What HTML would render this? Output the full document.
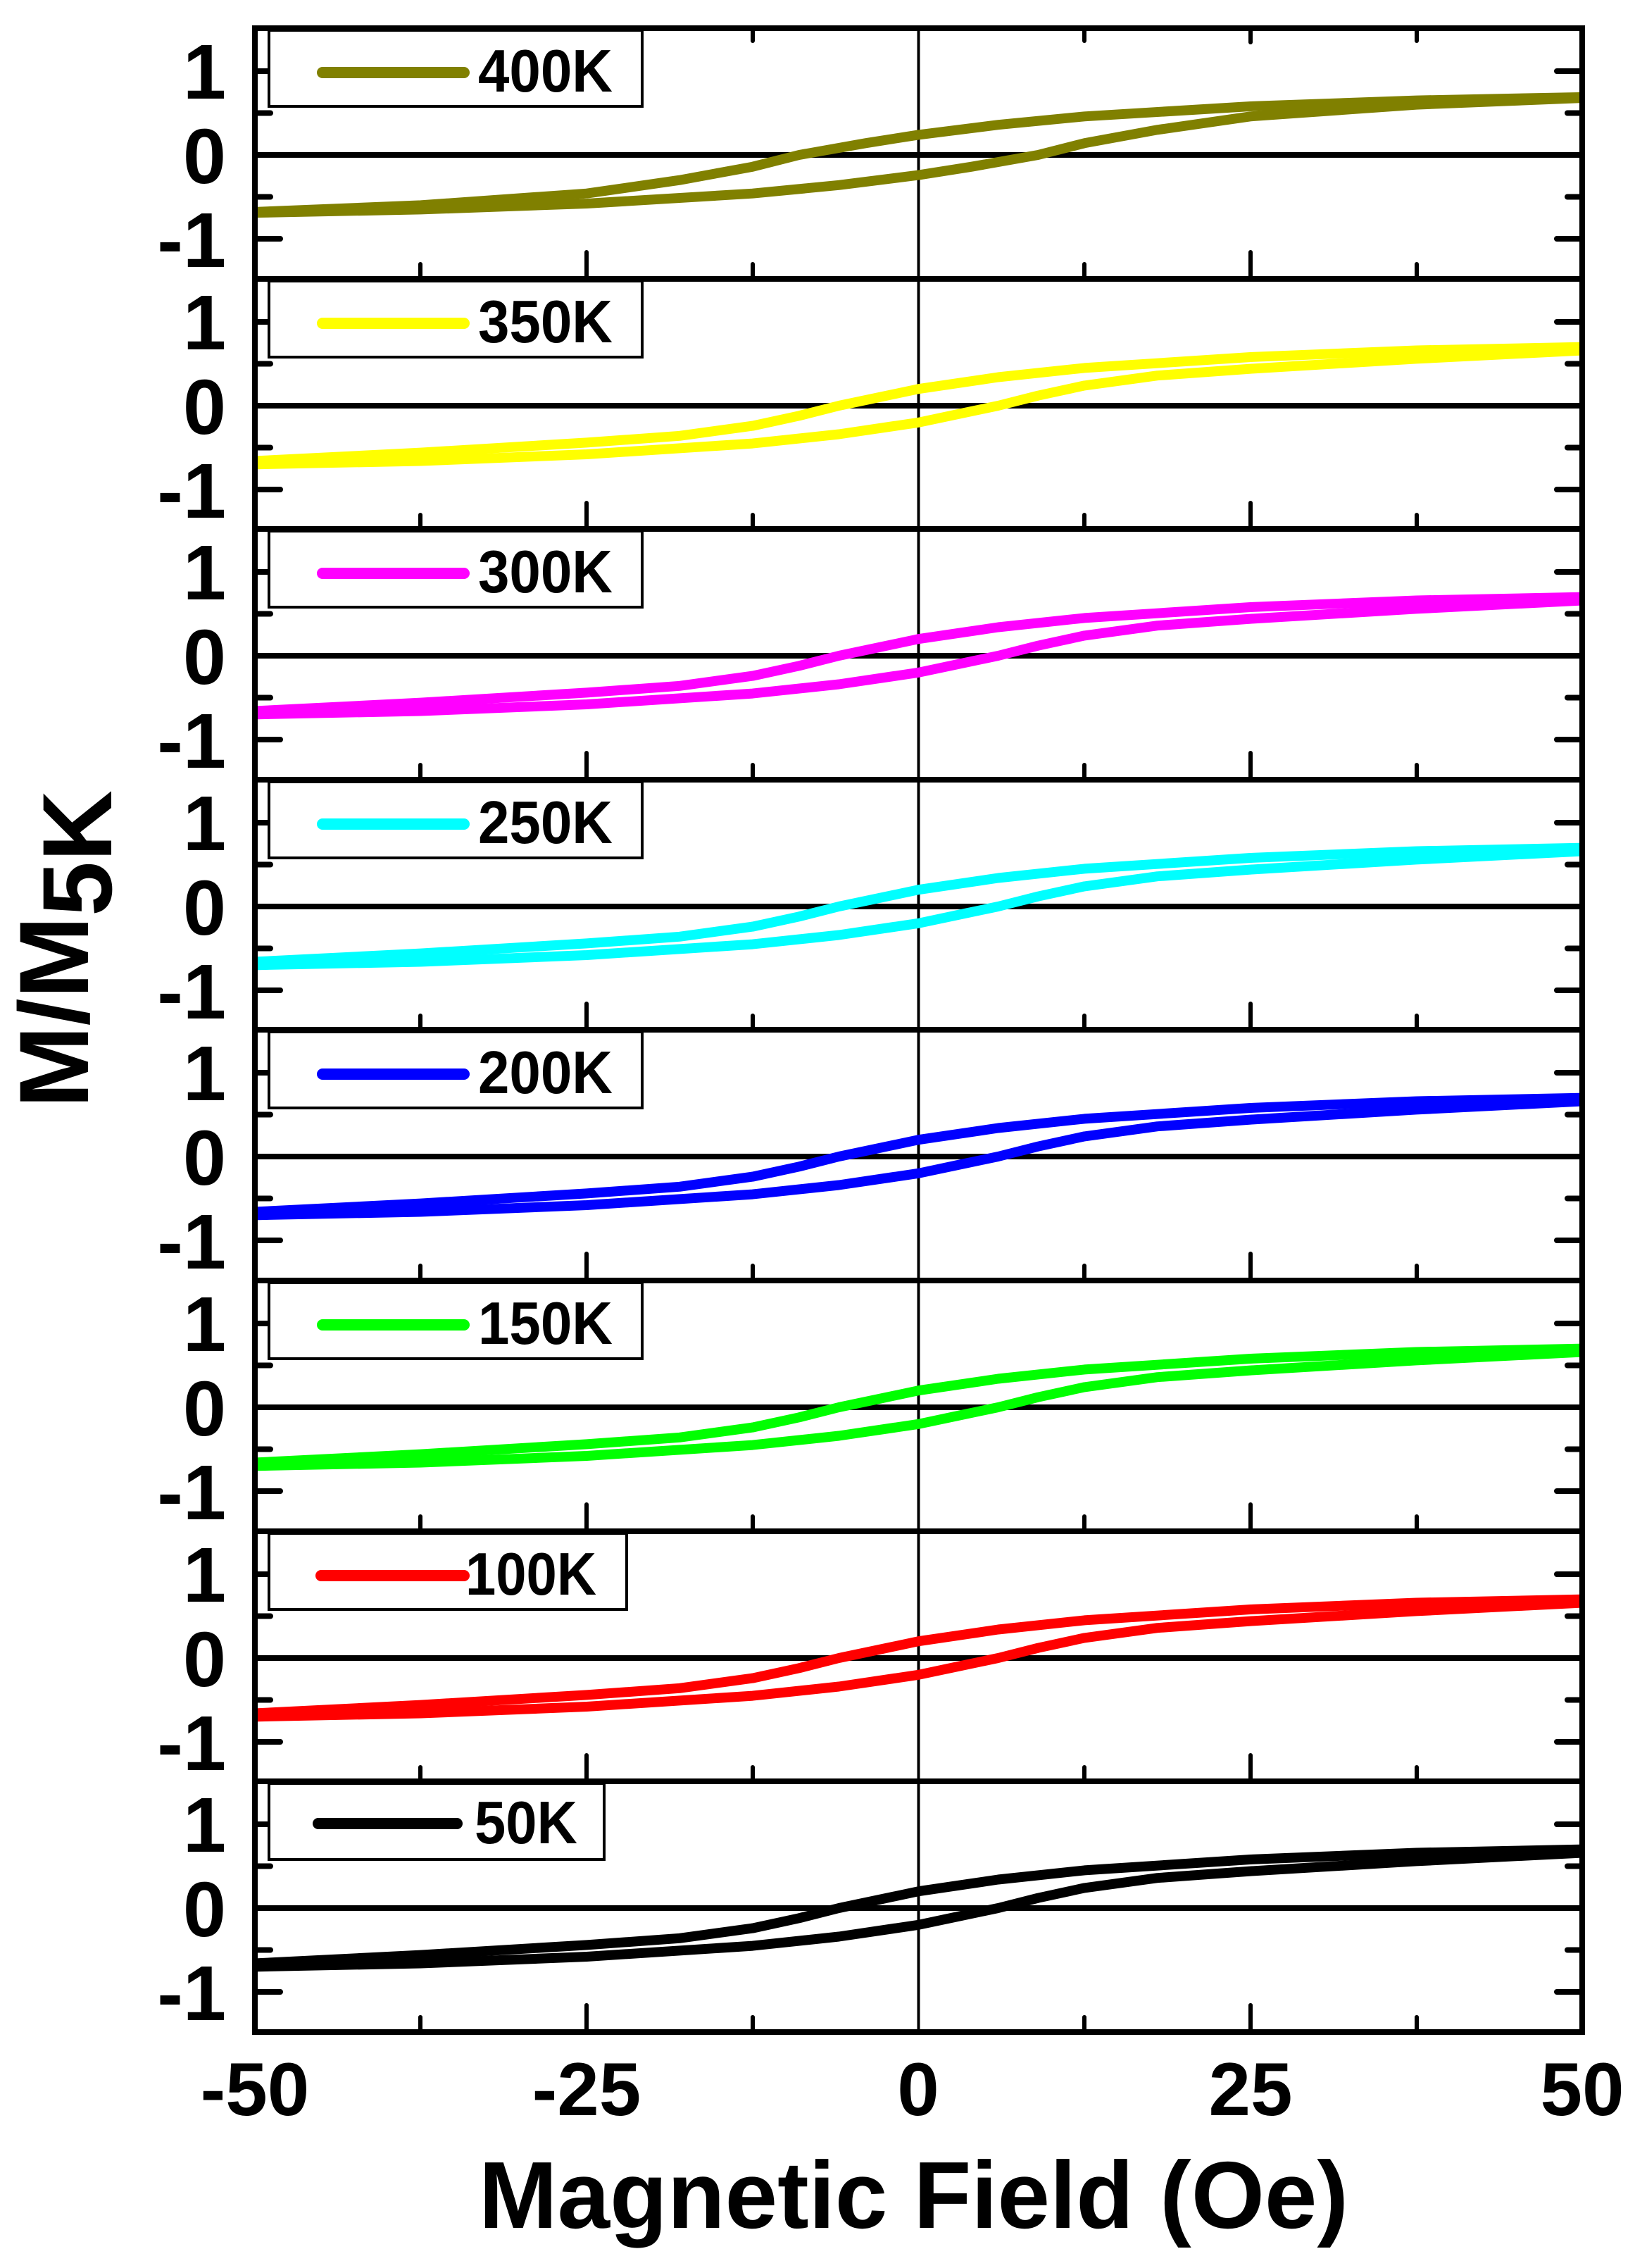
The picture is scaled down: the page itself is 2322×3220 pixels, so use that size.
<!DOCTYPE html>
<html><head><meta charset="utf-8"><style>
html,body{margin:0;padding:0;background:#fff;}
svg{display:block;}
text{font-family:"Liberation Sans",Arial,sans-serif;font-weight:bold;fill:#000;}
</style></head><body>
<svg width="2322" height="3220" viewBox="0 0 2322 3220" xmlns="http://www.w3.org/2000/svg">
<defs>
<clipPath id="cp"><rect x="366" y="40" width="1877" height="2845"/></clipPath>
<g id="ticks" stroke="#000" stroke-linecap="round" fill="none">
<line x1="366" y1="-119" x2="398" y2="-119" stroke-width="8"/>
<line x1="366" y1="119" x2="398" y2="119" stroke-width="8"/>
<line x1="366" y1="-59.5" x2="384" y2="-59.5" stroke-width="8"/>
<line x1="366" y1="59.5" x2="384" y2="59.5" stroke-width="8"/>
<line x1="2243" y1="-119" x2="2211" y2="-119" stroke-width="8"/>
<line x1="2243" y1="119" x2="2211" y2="119" stroke-width="8"/>
<line x1="2243" y1="-59.5" x2="2226" y2="-59.5" stroke-width="8"/>
<line x1="2243" y1="59.5" x2="2226" y2="59.5" stroke-width="8"/>
<line x1="833" y1="175" x2="833" y2="138" stroke-width="6"/>
<line x1="1776" y1="175" x2="1776" y2="138" stroke-width="6"/>
<line x1="597" y1="175" x2="597" y2="155" stroke-width="6"/>
<line x1="1069" y1="175" x2="1069" y2="155" stroke-width="6"/>
<line x1="1540" y1="175" x2="1540" y2="155" stroke-width="6"/>
<line x1="2012" y1="175" x2="2012" y2="155" stroke-width="6"/>
<line x1="362" y1="0" x2="2247" y2="0" stroke-width="8" stroke-linecap="butt"/>
</g>
<g id="ylab">
<text x="321" y="-80" font-size="110" text-anchor="end">1</text>
<text x="321" y="40" font-size="110" text-anchor="end">0</text>
<text x="321" y="159" font-size="110" text-anchor="end">-1</text>
</g>
</defs>

<g>
<use href="#ticks" transform="translate(0,220)"/><use href="#ylab" transform="translate(0,220)"/>
<use href="#ticks" transform="translate(0,576)"/><use href="#ylab" transform="translate(0,576)"/>
<use href="#ticks" transform="translate(0,931)"/><use href="#ylab" transform="translate(0,931)"/>
<use href="#ticks" transform="translate(0,1287)"/><use href="#ylab" transform="translate(0,1287)"/>
<use href="#ticks" transform="translate(0,1642)"/><use href="#ylab" transform="translate(0,1642)"/>
<use href="#ticks" transform="translate(0,1998)"/><use href="#ylab" transform="translate(0,1998)"/>
<use href="#ticks" transform="translate(0,2354)"/><use href="#ylab" transform="translate(0,2354)"/>
<use href="#ticks" transform="translate(0,2709)"/><use href="#ylab" transform="translate(0,2709)"/>
</g>
<g stroke="#000" stroke-width="6" stroke-linecap="round">
<line x1="833" y1="40" x2="833" y2="60"/><line x1="1776" y1="40" x2="1776" y2="60"/>
<line x1="597" y1="40" x2="597" y2="58"/><line x1="1069" y1="40" x2="1069" y2="58"/>
<line x1="1540" y1="40" x2="1540" y2="58"/><line x1="2012" y1="40" x2="2012" y2="58"/>
</g>
<g stroke="#000" stroke-width="6" stroke-linecap="round">
<line x1="833" y1="2885" x2="833" y2="2847"/><line x1="1776" y1="2885" x2="1776" y2="2847"/>
<line x1="597" y1="2885" x2="597" y2="2864"/><line x1="1069" y1="2885" x2="1069" y2="2864"/>
<line x1="1540" y1="2885" x2="1540" y2="2864"/><line x1="2012" y1="2885" x2="2012" y2="2864"/>
</g>
<line x1="1304.5" y1="40" x2="1304.5" y2="2885" stroke="#000" stroke-width="4"/>

<g clip-path="url(#cp)">
<g transform="translate(0,220)" fill="none" stroke="#808000" stroke-width="14" stroke-linejoin="round">
<path d="M362,80.9 L597.6,71.4 L833.3,54.7 L965.2,35.7 L1068.9,16.7 L1134.9,0 L1229.1,-16.7 L1304.5,-28.6 L1417.6,-42.8 L1540.1,-54.7 L1775.8,-69 L2011.4,-77.4 L2247,-82.1"/>
<path d="M2247,-80.9 L2011.4,-71.4 L1775.8,-54.7 L1643.8,-35.7 L1540.1,-16.7 L1474.2,0 L1379.9,16.7 L1304.5,28.6 L1191.4,42.8 L1068.9,54.7 L833.3,69 L597.6,77.4 L362,82.1"/>
</g>
<g fill="none" stroke-width="14" stroke-linejoin="round">
<g transform="translate(0,576)" stroke="#ffff00">
<path d="M362,78.5 L597.6,66.6 L833.3,52.4 L965.2,42.8 L1068.9,28.6 L1134.9,14.3 L1191.4,0 L1248,-11.9 L1304.5,-23.8 L1417.6,-40.5 L1540.1,-53.6 L1775.8,-69 L2011.4,-78.5 L2247,-83.3"/>
<path d="M362,83.3 L597.6,78.5 L833.3,69 L1068.9,53.6 L1191.4,40.5 L1304.5,23.8 L1361,11.9 L1417.6,0 L1474.2,-14.3 L1540.1,-28.6 L1643.8,-42.8 L1775.8,-52.4 L2011.4,-66.6 L2247,-78.5"/>
</g>
<g transform="translate(0,931)" stroke="#ff00ff">
<path d="M362,78.5 L597.6,66.6 L833.3,52.4 L965.2,42.8 L1068.9,28.6 L1134.9,14.3 L1191.4,0 L1248,-11.9 L1304.5,-23.8 L1417.6,-40.5 L1540.1,-53.6 L1775.8,-69 L2011.4,-78.5 L2247,-83.3"/>
<path d="M362,83.3 L597.6,78.5 L833.3,69 L1068.9,53.6 L1191.4,40.5 L1304.5,23.8 L1361,11.9 L1417.6,0 L1474.2,-14.3 L1540.1,-28.6 L1643.8,-42.8 L1775.8,-52.4 L2011.4,-66.6 L2247,-78.5"/>
</g>
<g transform="translate(0,1287)" stroke="#00ffff">
<path d="M362,78.5 L597.6,66.6 L833.3,52.4 L965.2,42.8 L1068.9,28.6 L1134.9,14.3 L1191.4,0 L1248,-11.9 L1304.5,-23.8 L1417.6,-40.5 L1540.1,-53.6 L1775.8,-69 L2011.4,-78.5 L2247,-83.3"/>
<path d="M362,83.3 L597.6,78.5 L833.3,69 L1068.9,53.6 L1191.4,40.5 L1304.5,23.8 L1361,11.9 L1417.6,0 L1474.2,-14.3 L1540.1,-28.6 L1643.8,-42.8 L1775.8,-52.4 L2011.4,-66.6 L2247,-78.5"/>
</g>
<g transform="translate(0,1642)" stroke="#0000ff">
<path d="M362,78.5 L597.6,66.6 L833.3,52.4 L965.2,42.8 L1068.9,28.6 L1134.9,14.3 L1191.4,0 L1248,-11.9 L1304.5,-23.8 L1417.6,-40.5 L1540.1,-53.6 L1775.8,-69 L2011.4,-78.5 L2247,-83.3"/>
<path d="M362,83.3 L597.6,78.5 L833.3,69 L1068.9,53.6 L1191.4,40.5 L1304.5,23.8 L1361,11.9 L1417.6,0 L1474.2,-14.3 L1540.1,-28.6 L1643.8,-42.8 L1775.8,-52.4 L2011.4,-66.6 L2247,-78.5"/>
</g>
<g transform="translate(0,1998)" stroke="#00ff00">
<path d="M362,78.5 L597.6,66.6 L833.3,52.4 L965.2,42.8 L1068.9,28.6 L1134.9,14.3 L1191.4,0 L1248,-11.9 L1304.5,-23.8 L1417.6,-40.5 L1540.1,-53.6 L1775.8,-69 L2011.4,-78.5 L2247,-83.3"/>
<path d="M362,83.3 L597.6,78.5 L833.3,69 L1068.9,53.6 L1191.4,40.5 L1304.5,23.8 L1361,11.9 L1417.6,0 L1474.2,-14.3 L1540.1,-28.6 L1643.8,-42.8 L1775.8,-52.4 L2011.4,-66.6 L2247,-78.5"/>
</g>
<g transform="translate(0,2354)" stroke="#ff0000">
<path d="M362,78.5 L597.6,66.6 L833.3,52.4 L965.2,42.8 L1068.9,28.6 L1134.9,14.3 L1191.4,0 L1248,-11.9 L1304.5,-23.8 L1417.6,-40.5 L1540.1,-53.6 L1775.8,-69 L2011.4,-78.5 L2247,-83.3"/>
<path d="M362,83.3 L597.6,78.5 L833.3,69 L1068.9,53.6 L1191.4,40.5 L1304.5,23.8 L1361,11.9 L1417.6,0 L1474.2,-14.3 L1540.1,-28.6 L1643.8,-42.8 L1775.8,-52.4 L2011.4,-66.6 L2247,-78.5"/>
</g>
<g transform="translate(0,2709)" stroke="#000000">
<path d="M362,78.5 L597.6,66.6 L833.3,52.4 L965.2,42.8 L1068.9,28.6 L1134.9,14.3 L1191.4,0 L1248,-11.9 L1304.5,-23.8 L1417.6,-40.5 L1540.1,-53.6 L1775.8,-69 L2011.4,-78.5 L2247,-83.3"/>
<path d="M362,83.3 L597.6,78.5 L833.3,69 L1068.9,53.6 L1191.4,40.5 L1304.5,23.8 L1361,11.9 L1417.6,0 L1474.2,-14.3 L1540.1,-28.6 L1643.8,-42.8 L1775.8,-52.4 L2011.4,-66.6 L2247,-78.5"/>
</g>
</g>
</g>

<g stroke="#000" stroke-width="8">
<line x1="358" y1="40" x2="2251" y2="40"/>
<line x1="358" y1="396" x2="2251" y2="396"/>
<line x1="358" y1="751" x2="2251" y2="751"/>
<line x1="358" y1="1107" x2="2251" y2="1107"/>
<line x1="358" y1="1462" x2="2251" y2="1462"/>
<line x1="358" y1="1818" x2="2251" y2="1818"/>
<line x1="358" y1="2174" x2="2251" y2="2174"/>
<line x1="358" y1="2529" x2="2251" y2="2529"/>
<line x1="358" y1="2885" x2="2251" y2="2885"/>
<line x1="362" y1="36" x2="362" y2="2889"/>
<line x1="2247" y1="36" x2="2247" y2="2889"/>
</g>

<g fill="#fff" stroke="#000" stroke-width="4">
<rect x="382" y="43" width="530" height="108"/>
<rect x="382" y="399" width="530" height="108"/>
<rect x="382" y="754" width="530" height="108"/>
<rect x="382" y="1110" width="530" height="108"/>
<rect x="382" y="1465" width="530" height="108"/>
<rect x="382" y="1821" width="530" height="108"/>
<rect x="382" y="2177" width="508" height="108"/>
<rect x="382" y="2532" width="476" height="108"/>
</g>
<g stroke-width="16" stroke-linecap="round">
<line x1="458" y1="103" x2="659" y2="103" stroke="#808000"/>
<line x1="458" y1="459" x2="659" y2="459" stroke="#ffff00"/>
<line x1="458" y1="814" x2="659" y2="814" stroke="#ff00ff"/>
<line x1="458" y1="1170" x2="659" y2="1170" stroke="#00ffff"/>
<line x1="458" y1="1525" x2="659" y2="1525" stroke="#0000ff"/>
<line x1="458" y1="1881" x2="659" y2="1881" stroke="#00ff00"/>
<line x1="456" y1="2237" x2="659" y2="2237" stroke="#ff0000"/>
<line x1="452" y1="2589" x2="649" y2="2589" stroke="#000000"/>
</g>
<g font-size="85">
<text x="679" y="130" textLength="191" lengthAdjust="spacingAndGlyphs">400K</text>
<text x="679" y="486" textLength="191" lengthAdjust="spacingAndGlyphs">350K</text>
<text x="679" y="841" textLength="191" lengthAdjust="spacingAndGlyphs">300K</text>
<text x="679" y="1197" textLength="191" lengthAdjust="spacingAndGlyphs">250K</text>
<text x="679" y="1552" textLength="191" lengthAdjust="spacingAndGlyphs">200K</text>
<text x="679" y="1908" textLength="191" lengthAdjust="spacingAndGlyphs">150K</text>
<text x="661" y="2264" textLength="186" lengthAdjust="spacingAndGlyphs">100K</text>
<text x="674" y="2617" textLength="146" lengthAdjust="spacingAndGlyphs">50K</text>
</g>

<g font-size="107" text-anchor="middle">
<text x="362" y="3003">-50</text>
<text x="833" y="3003">-25</text>
<text x="1304" y="3003">0</text>
<text x="1776" y="3003">25</text>
<text x="2247" y="3003">50</text>
</g>
<text x="680" y="3163" font-size="135" textLength="1235" lengthAdjust="spacingAndGlyphs">Magnetic Field (Oe)</text>
<text transform="translate(125,1573) rotate(-90)" font-size="140">M/M<tspan dy="33">5K</tspan></text>
</svg>
</body></html>
